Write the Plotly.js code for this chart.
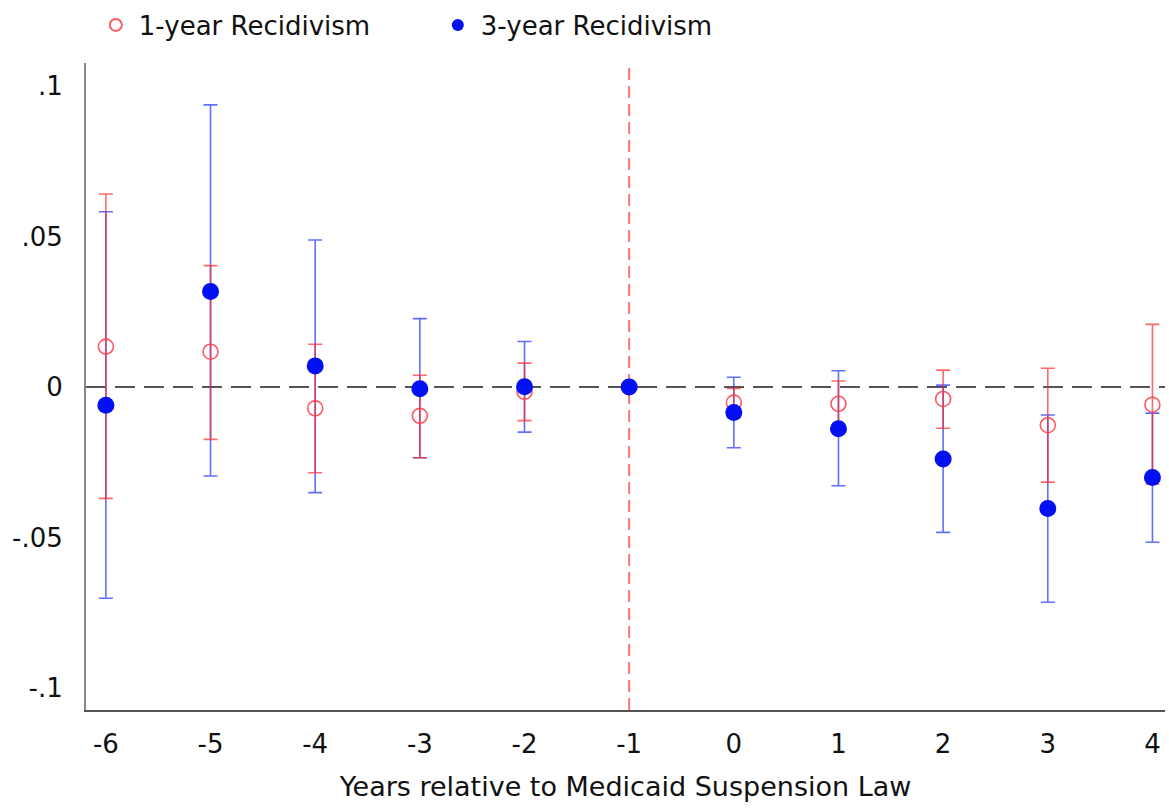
<!DOCTYPE html>
<html>
<head>
<meta charset="utf-8">
<script src="https://cdn.plot.ly/plotly-3.0.1.min.js"></script>
<style>html,body{margin:0;padding:0;background:#fff;}#chart{width:1169px;height:809px;}</style>
</head>
<body>
<div id="chart"></div>
<script>
var years = [-6, -5, -4, -3, -2, -1, 0, 1, 2, 3, 4];
var tickLabels = ['-6', '-5', '-4', '-3', '-2', '-1', '0', '1', '2', '3', '4'];
var yTickVals = [0.1, 0.05, 0, -0.05, -0.1];
var yTickText = ['.1', '.05', '0', '-.05', '-.1'];

// 1-year recidivism: point estimate, lower and upper CI bound
var est1 = [0.0134, 0.0117, -0.0071, -0.0096, -0.0016, 0, -0.0052, -0.0056, -0.0040, -0.0127, -0.0059];
var lo1  = [-0.0370, -0.0174, -0.0285, -0.0235, -0.0112, 0, -0.0101, -0.0132, -0.0137, -0.0316, -0.0323];
var hi1  = [0.0641, 0.0403, 0.0142, 0.0039, 0.0079, 0, -0.0005, 0.0020, 0.0056, 0.0062, 0.0208];

// 3-year recidivism
var est3 = [-0.0061, 0.0317, 0.0070, -0.0006, 0.0001, 0, -0.0085, -0.0139, -0.0239, -0.0404, -0.0301];
var lo3  = [-0.0702, -0.0296, -0.0351, -0.0235, -0.0150, 0, -0.0202, -0.0328, -0.0483, -0.0715, -0.0516];
var hi3  = [0.0582, 0.0937, 0.0488, 0.0227, 0.0151, 0, 0.0032, 0.0054, 0.0006, -0.0093, -0.0087];

var lawYear = -1;

function plus(est, hi) { return est.map(function (v, i) { return hi[i] - v; }); }
function minus(est, lo) { return est.map(function (v, i) { return v - lo[i]; }); }

var FONT = 'DejaVu Sans, Liberation Sans, Arial, sans-serif';

var blueBars = {
  x: years, y: est3, type: 'scatter', mode: 'markers', showlegend: false, hoverinfo: 'skip',
  marker: {size: 16, color: 'rgba(0,0,255,0)'},
  error_y: {type: 'data', symmetric: false, array: plus(est3, hi3), arrayminus: minus(est3, lo3),
            color: 'rgba(30,50,255,0.7)', thickness: 1.6, width: 7}
};
var red = {
  x: years, y: est1, type: 'scatter', mode: 'markers', name: '1-year Recidivism',
  marker: {symbol: 'circle-open', size: 15, color: 'rgba(255,60,70,0.85)', line: {width: 1.6}},
  error_y: {type: 'data', symmetric: false, array: plus(est1, hi1), arrayminus: minus(est1, lo1),
            color: 'rgba(255,40,40,0.7)', thickness: 1.6, width: 7}
};
var blue = {
  x: years, y: est3, type: 'scatter', mode: 'markers', name: '3-year Recidivism',
  marker: {symbol: 'circle', size: 17, color: '#0010f0'}
};

var layout = {
  width: 1169, height: 809,
  margin: {l: 86, r: 4, t: 63, b: 99, autoexpand: false},
  paper_bgcolor: '#fff', plot_bgcolor: '#fff',
  font: {family: FONT, size: 26, color: '#111'},
  showlegend: true,
  legend: {orientation: 'h', x: 0.0063, xanchor: 'left', y: 1.0587, yanchor: 'middle',
           font: {family: FONT, size: 26, color: '#111'}, itemsizing: 'constant', itemwidth: 36,
           entrywidth: 291, entrywidthmode: 'pixels', bgcolor: 'rgba(0,0,0,0)'},
  xaxis: {
    range: [-6.19, 4.12], tickvals: years, ticktext: tickLabels,
    showgrid: false, zeroline: false, showline: true, linecolor: '#555', linewidth: 2,
    ticks: 'outside', ticklen: 10, tickcolor: 'rgba(0,0,0,0)',
    tickfont: {family: FONT, size: 26, color: '#111'},
    title: {text: 'Years relative to Medicaid Suspension Law', font: {family: FONT, size: 27, color: '#111'}, standoff: 19}
  },
  yaxis: {
    range: [-0.1073, 0.1076], tickvals: yTickVals, ticktext: yTickText,
    showgrid: false, zeroline: false, showline: true, linecolor: '#888', linewidth: 2,
    ticks: 'outside', ticklen: 16, tickcolor: 'rgba(0,0,0,0)',
    tickfont: {family: FONT, size: 26, color: '#111'}
  },
  shapes: [
    {type: 'line', layer: 'below', xref: 'paper', x0: 0, x1: 1, yref: 'y', y0: 0, y1: 0,
     line: {color: '#555', width: 2, dash: '20px,9px'}},
    {type: 'line', layer: 'below', xref: 'x', x0: lawYear, x1: lawYear, yref: 'paper', y0: 0, y1: 1,
     line: {color: 'rgba(255,90,90,0.85)', width: 2, dash: '12px,6px'}}
  ]
};

Plotly.newPlot('chart', [blueBars, red, blue], layout, {displayModeBar: false, staticPlot: true});
</script>
</body>
</html>
